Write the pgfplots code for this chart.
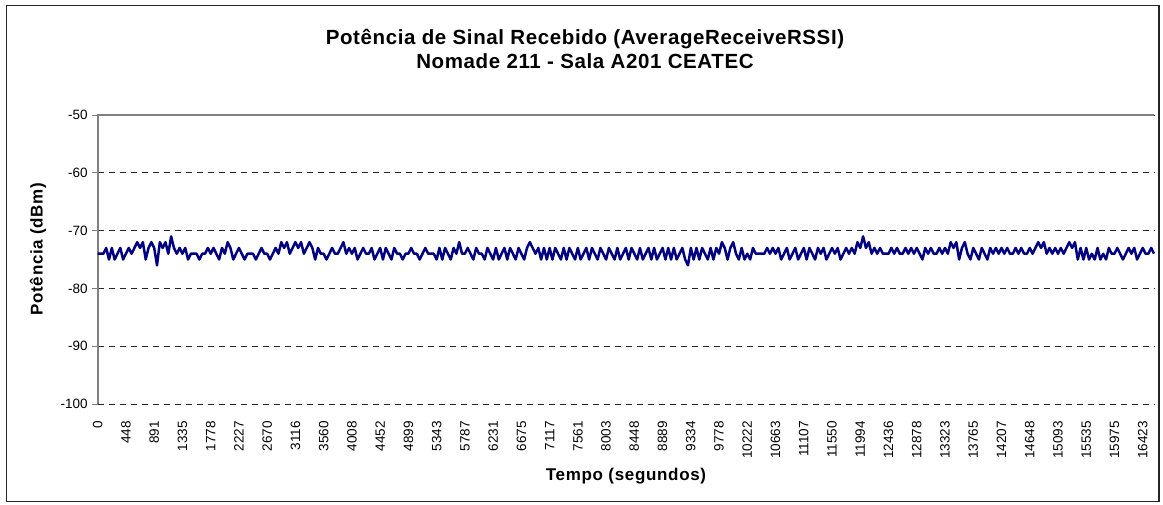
\documentclass[border=0pt]{standalone}
\usepackage{pgfplots}
\pgfplotsset{compat=1.18}
\usepackage{fontspec}
\setmainfont{Liberation Sans}
\definecolor{navyline}{RGB}{0,0,128}
\definecolor{axgray}{RGB}{128,128,128}
\begin{document}
\begin{tikzpicture}[x=1pt,y=1pt]
\useasboundingbox (0,0) rectangle (1163,504);
\draw[black!85, line width=1.6pt] (6.5,2.5) rectangle (1159,498.5);
\node[font=\fontsize{20.5}{24}\selectfont\bfseries\addfontfeature{LetterSpace=3}, align=center] at (585,455) {Potência de Sinal Recebido (AverageReceiveRSSI)\\Nomade 211 - Sala A201 CEATEC};
\node[font=\fontsize{17}{20}\selectfont\bfseries\addfontfeature{LetterSpace=4}] at (626,28) {Tempo (segundos)};
\node[font=\fontsize{17}{20}\selectfont\bfseries\addfontfeature{LetterSpace=4}, rotate=90] at (38,255) {Potência (dBm)};
\begin{axis}[
  at={(97.7pt,100pt)}, anchor=south west,
  scale only axis, width=1056.3pt, height=289pt,
  xmin=0, xmax=374, ymin=-100, ymax=-50,
  ytick={-100,-90,...,-50},
  xtick={0,10,...,370},
  xticklabels={0,448,891,1335,1778,2227,2670,3116,3560,4008,4452,4899,5343,5787,6231,6675,7117,7561,8003,8448,8889,9334,9778,10222,10663,11107,11550,11994,12436,12878,13323,13765,14207,14648,15093,15535,15975,16423},
  /pgf/number format/assume math mode=true,
  axis line style={draw=none},
  ytick pos=left, tick align=outside,
  major tick length=5.5pt,
  ytick style={axgray, line width=1pt},
  xtick style={draw=none},
  ymajorgrids,
  major grid style={black!85, line width=0.9pt, dash pattern=on 6pt off 5pt},
  yticklabel style={font=\fontsize{13.5}{15}\selectfont, xshift=-1pt},
  xticklabel style={font=\fontsize{13.5}{15}\selectfont, rotate=90, anchor=east, xshift=-8pt},
  clip=false,
]
\draw[axgray, line width=1.6pt] (axis cs:0,-100) -- (axis cs:0,-50) -- (axis cs:374,-50);
\addplot[navyline, line width=2.5pt, line join=round, mark=none] table[row sep=\\, header=false, x expr=\coordindex, y index=0] {
-74\\-74\\-74\\-73\\-75\\-73\\-75\\-74\\-73\\-75\\
-74\\-73\\-74\\-73\\-72\\-73\\-72\\-75\\-73\\-72\\
-73\\-76\\-72\\-73\\-72\\-74\\-71\\-73\\-74\\-73\\
-74\\-73\\-75\\-74\\-74\\-74\\-75\\-74\\-74\\-73\\
-74\\-73\\-74\\-75\\-73\\-74\\-72\\-73\\-75\\-74\\
-73\\-74\\-75\\-74\\-74\\-74\\-75\\-74\\-73\\-74\\
-74\\-75\\-74\\-73\\-74\\-72\\-73\\-72\\-74\\-73\\
-72\\-73\\-72\\-74\\-73\\-72\\-73\\-75\\-73\\-74\\
-74\\-75\\-74\\-73\\-74\\-74\\-73\\-72\\-74\\-73\\
-74\\-73\\-75\\-74\\-73\\-74\\-74\\-73\\-75\\-74\\
-73\\-75\\-73\\-74\\-75\\-73\\-74\\-74\\-75\\-74\\
-74\\-73\\-74\\-74\\-75\\-74\\-73\\-74\\-74\\-74\\
-75\\-73\\-75\\-73\\-74\\-75\\-73\\-74\\-72\\-74\\
-74\\-73\\-74\\-75\\-73\\-74\\-74\\-75\\-73\\-74\\
-75\\-73\\-75\\-74\\-73\\-75\\-73\\-74\\-75\\-73\\
-74\\-75\\-73\\-72\\-73\\-74\\-73\\-75\\-73\\-75\\
-73\\-75\\-73\\-74\\-75\\-73\\-75\\-73\\-74\\-75\\
-73\\-75\\-74\\-73\\-75\\-73\\-74\\-75\\-73\\-74\\
-75\\-73\\-74\\-75\\-73\\-75\\-74\\-73\\-75\\-73\\
-74\\-75\\-73\\-75\\-74\\-73\\-75\\-73\\-75\\-74\\
-73\\-75\\-73\\-75\\-73\\-75\\-74\\-73\\-75\\-76\\
-73\\-75\\-73\\-75\\-73\\-74\\-75\\-73\\-75\\-73\\
-74\\-72\\-73\\-75\\-73\\-72\\-74\\-75\\-73\\-75\\
-74\\-75\\-73\\-74\\-74\\-74\\-74\\-73\\-74\\-73\\
-74\\-73\\-75\\-74\\-73\\-75\\-74\\-73\\-75\\-74\\
-73\\-75\\-73\\-74\\-75\\-73\\-74\\-73\\-75\\-74\\
-73\\-74\\-73\\-75\\-74\\-73\\-74\\-73\\-74\\-72\\
-73\\-71\\-73\\-72\\-74\\-73\\-74\\-73\\-74\\-74\\
-74\\-73\\-74\\-73\\-74\\-74\\-73\\-74\\-73\\-74\\
-73\\-74\\-75\\-73\\-74\\-73\\-74\\-74\\-73\\-74\\
-73\\-74\\-72\\-73\\-72\\-75\\-73\\-72\\-74\\-75\\
-73\\-74\\-75\\-73\\-74\\-75\\-73\\-74\\-73\\-74\\
-73\\-74\\-73\\-74\\-74\\-73\\-74\\-73\\-74\\-74\\
-73\\-74\\-73\\-72\\-73\\-72\\-74\\-73\\-74\\-73\\
-74\\-73\\-74\\-73\\-72\\-73\\-72\\-75\\-73\\-75\\
-73\\-75\\-74\\-75\\-73\\-75\\-74\\-75\\-73\\-74\\
-74\\-73\\-74\\-75\\-74\\-73\\-74\\-73\\-75\\-74\\
-73\\-74\\-74\\-73\\-74\\
};
\end{axis}
\end{tikzpicture}
\end{document}
